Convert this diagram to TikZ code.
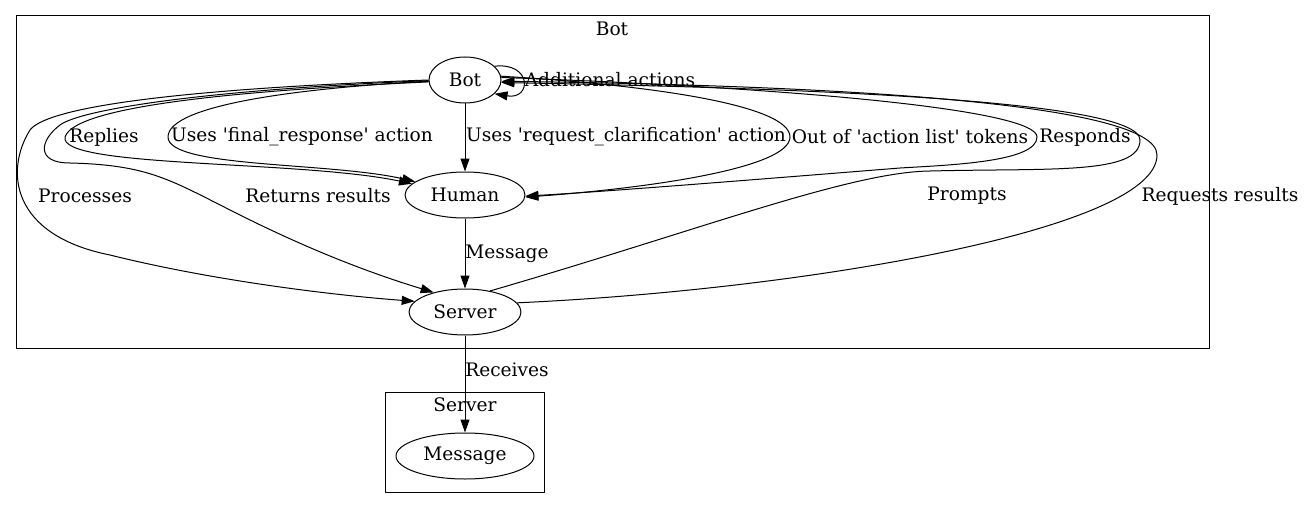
\documentclass[tikz,border=0pt]{standalone}
\usepackage{fontspec}
\setmainfont{DejaVu Serif}
\usetikzlibrary{shapes.geometric,arrows.meta}
\begin{document}
\begin{tikzpicture}[x=1pt,y=-1pt,line width=1pt,line join=round,
	font=\fontsize{18.6}{22}\selectfont,
	>={Triangle[length=13pt,width=9pt]},
	state/.style={draw,ellipse,inner sep=0pt,minimum height=46pt},
	lbl/.style={inner sep=0pt}]
	\useasboundingbox (0,0) rectangle (1308,508);
	% clusters
	\draw (16,16) rectangle (1209,348);
	\node[lbl] (botcl) at (612,29) {Bot};
	\draw (385,392) rectangle (544,492);
	\node[lbl] (servercl) at (465,405) {Server};
	% states
	\node[state,minimum width=72pt] (bot) at (465,80) {Bot};
	\node[state,minimum width=120pt] (human) at (465,195) {Human};
	\node[state,minimum width=112pt] (server) at (465,312) {Server};
	\node[state,minimum width=138pt] (msg) at (465,456) {Message};
	% labels
	\node[lbl] (l1) at (610,80) {Additional actions};
	\node[lbl] (l2) at (104,137) {Replies};
	\node[lbl] (l3) at (302,137) {Uses \textquotesingle final\_response\textquotesingle{} action};
	\node[lbl] (l4) at (626,137) {Uses \textquotesingle request\_clarification\textquotesingle{} action};
	\node[lbl] (l5) at (910,137) {Out of \textquotesingle action list\textquotesingle{} tokens};
	\node[lbl] (l6) at (1085,137) {Responds};
	\node[lbl] (l7) at (85,196) {Processes};
	\node[lbl] (l8) at (318,196) {Returns results};
	\node[lbl] (l9) at (967,196) {Prompts};
	\node[lbl] (l10) at (1220,196) {Requests results};
	\node[lbl] (l11) at (507,254) {Message};
	\node[lbl] (l12) at (507,370) {Receives};
	% edges
	\draw[->] (bot.25) .. controls (532,62) and (532,100) .. (bot.-25);
	\draw[->] (bot.183) .. controls (250,90) and (75,105) .. (65,137)
		.. controls (58,168) and (300,160) .. (human.168);
	\draw[->] (bot.182) .. controls (300,88) and (168,105) .. (168,137)
		.. controls (168,168) and (330,162) .. (human.165);
	\draw[->] (bot) -- (human);
	\draw[->] (bot.6) .. controls (650,85) and (790,105) .. (790,137)
		.. controls (790,168) and (650,188) .. (human.-2);
	\draw[->] (bot.4) .. controls (800,88) and (1037,110) .. (1037,137)
		.. controls (1037,162) and (950,165) .. (900,168)
		.. controls (750,180) and (600,192) .. (human.-1);
	\draw[->] (bot.180) .. controls (150,90) and (45,110) .. (30,130)
		.. controls (5,170) and (10,235) .. (110,255)
		.. controls (210,280) and (330,295) .. (server.168);
	\draw[->] (bot.181) .. controls (200,90) and (80,110) .. (60,125)
		.. controls (40,140) and (35,163) .. (70,163)
		.. controls (150,165) and (170,180) .. (240,215)
		.. controls (300,245) and (360,270) .. (server.148);
	\draw[->] (server.40) .. controls (700,230) and (850,172) .. (930,171)
		.. controls (1050,168) and (1140,175) .. (1140,140)
		.. controls (1140,100) and (800,88) .. (bot.-4);
	\draw[->] (server.10) .. controls (800,290) and (1157,230) .. (1157,155)
		.. controls (1157,100) and (800,85) .. (bot.-2);
	\draw[->] (human) -- (server);
	\draw[->] (server) -- (msg);
\end{tikzpicture}
\end{document}
